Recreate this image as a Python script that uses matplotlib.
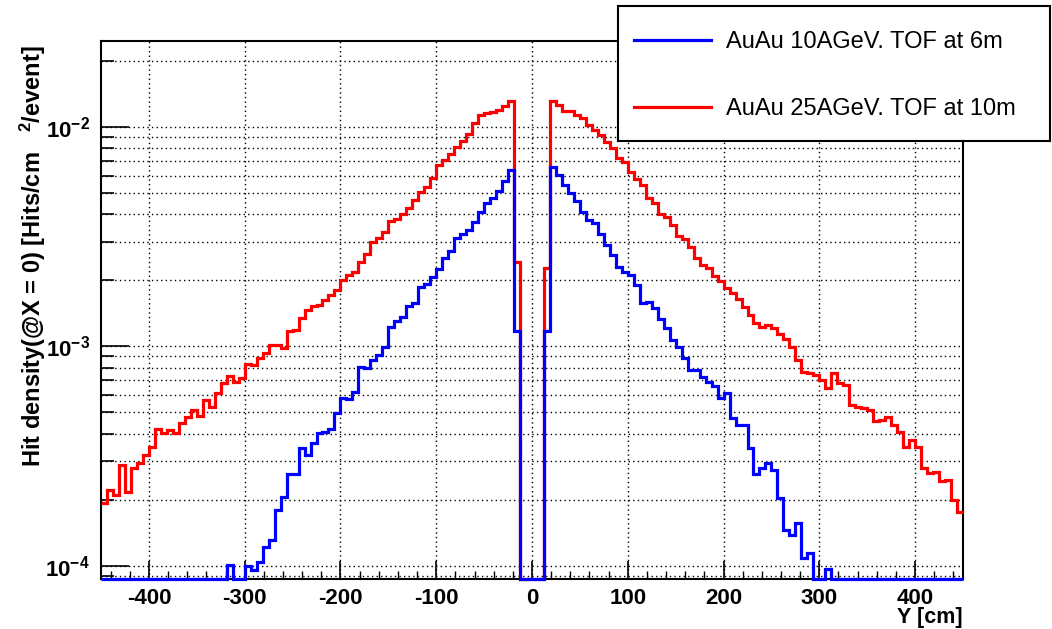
import numpy as np
import matplotlib
matplotlib.use("Agg")
import matplotlib.pyplot as plt
from matplotlib.ticker import MultipleLocator, LogLocator, NullFormatter
from matplotlib.lines import Line2D

plt.rcParams['font.family'] = ['Liberation Sans', 'DejaVu Sans']
plt.rcParams['mathtext.default'] = 'regular'

# histogram binning: 144 bins over the TOF wall, Y in cm
y_lo, y_hi, n_bins = -450.0, 450.0, 144
edges = np.linspace(y_lo, y_hi, n_bins + 1)

label_10 = "AuAu 10AGeV. TOF at 6m"
label_25 = "AuAu 25AGeV. TOF at 10m"

# hit density [hits/cm^2/event] (0 = empty bin)
density_25 = [
    1.92e-4, 2.21e-4, 2.10e-4, 2.88e-4, 2.17e-4, 2.78e-4, 2.93e-4, 3.19e-4, 3.48e-4, 4.22e-4,
    4.01e-4, 4.15e-4, 4.01e-4, 4.45e-4, 4.78e-4, 5.13e-4, 4.81e-4, 5.69e-4, 5.31e-4, 6.10e-4,
    6.78e-4, 7.32e-4, 6.90e-4, 7.14e-4, 8.30e-4, 8.22e-4, 8.81e-4, 9.29e-4, 1.01e-3, 1.01e-3,
    9.79e-4, 1.17e-3, 1.19e-3, 1.34e-3, 1.47e-3, 1.52e-3, 1.54e-3, 1.63e-3, 1.71e-3, 1.81e-3,
    2.01e-3, 2.11e-3, 2.19e-3, 2.43e-3, 2.65e-3, 3.00e-3, 3.11e-3, 3.33e-3, 3.73e-3, 3.79e-3,
    4.01e-3, 4.29e-3, 4.65e-3, 5.04e-3, 5.35e-3, 5.83e-3, 6.71e-3, 7.08e-3, 7.53e-3, 8.08e-3,
    8.66e-3, 9.29e-3, 1.04e-2, 1.13e-2, 1.16e-2, 1.17e-2, 1.20e-2, 1.25e-2, 1.32e-2, 2.43e-3,
    0.0, 0.0, 0.0, 0.0, 2.27e-3, 1.32e-2, 1.26e-2, 1.19e-2, 1.18e-2, 1.14e-2,
    1.10e-2, 1.02e-2, 9.69e-3, 9.19e-3, 8.57e-3, 7.99e-3, 7.20e-3, 6.95e-3, 6.26e-3, 5.77e-3,
    5.44e-3, 4.73e-3, 4.49e-3, 4.01e-3, 3.87e-3, 3.57e-3, 3.18e-3, 3.08e-3, 2.85e-3, 2.52e-3,
    2.36e-3, 2.27e-3, 2.09e-3, 1.99e-3, 1.84e-3, 1.76e-3, 1.64e-3, 1.51e-3, 1.39e-3, 1.28e-3,
    1.23e-3, 1.25e-3, 1.21e-3, 1.14e-3, 1.08e-3, 9.96e-4, 8.67e-4, 7.66e-4, 7.53e-4, 7.40e-4,
    7.02e-4, 6.43e-4, 7.53e-4, 6.83e-4, 6.67e-4, 5.40e-4, 5.27e-4, 5.21e-4, 5.13e-4, 4.58e-4,
    4.61e-4, 4.74e-4, 4.38e-4, 4.08e-4, 3.48e-4, 3.74e-4, 3.48e-4, 2.78e-4, 2.65e-4, 2.68e-4,
    2.44e-4, 2.47e-4, 1.99e-4, 1.76e-4,
]

density_10 = [
    0.0, 0.0, 0.0, 0.0, 0.0, 0.0, 0.0, 0.0, 0.0, 0.0,
    0.0, 0.0, 0.0, 0.0, 0.0, 0.0, 0.0, 0.0, 0.0, 0.0,
    0.0, 1.01e-4, 0.0, 0.0, 1.00e-4, 9.55e-5, 1.04e-4, 1.22e-4, 1.31e-4, 1.79e-4,
    2.06e-4, 2.63e-4, 2.63e-4, 3.43e-4, 3.19e-4, 3.61e-4, 4.01e-4, 4.08e-4, 4.22e-4, 4.95e-4,
    5.79e-4, 5.75e-4, 6.21e-4, 8.07e-4, 7.94e-4, 8.67e-4, 9.12e-4, 9.96e-4, 1.23e-3, 1.30e-3,
    1.36e-3, 1.53e-3, 1.57e-3, 1.86e-3, 1.92e-3, 2.08e-3, 2.25e-3, 2.52e-3, 2.73e-3, 3.11e-3,
    3.25e-3, 3.41e-3, 3.70e-3, 4.11e-3, 4.52e-3, 4.73e-3, 5.11e-3, 5.69e-3, 6.37e-3, 1.17e-3,
    0.0, 0.0, 0.0, 0.0, 1.17e-3, 6.55e-3, 6.04e-3, 5.44e-3, 4.99e-3, 4.60e-3,
    4.11e-3, 3.77e-3, 3.64e-3, 3.27e-3, 2.90e-3, 2.61e-3, 2.31e-3, 2.19e-3, 2.11e-3, 1.90e-3,
    1.57e-3, 1.60e-3, 1.49e-3, 1.33e-3, 1.21e-3, 1.07e-3, 9.96e-4, 8.87e-4, 7.80e-4, 7.80e-4,
    7.27e-4, 6.90e-4, 6.59e-4, 5.79e-4, 6.10e-4, 4.70e-4, 4.38e-4, 4.38e-4, 3.43e-4, 2.63e-4,
    2.78e-4, 2.93e-4, 2.73e-4, 2.03e-4, 1.45e-4, 1.38e-4, 1.56e-4, 1.08e-4, 1.14e-4, 0.0,
    0.0, 9.70e-5, 0.0, 0.0, 0.0, 0.0, 0.0, 0.0, 0.0, 0.0,
    0.0, 0.0, 0.0, 0.0, 0.0, 0.0, 0.0, 0.0, 0.0, 0.0,
    0.0, 0.0, 0.0, 0.0,
]

y_min, y_max = 8.66e-5, 2.47e-2
x_ticks = [-400, -300, -200, -100, 0, 100, 200, 300, 400]
y_ticks = [1e-4, 1e-3, 1e-2]
y_ticklabels = ['$10^{-4}$', '$10^{-3}$', '$10^{-2}$']

fig = plt.figure(figsize=(10.52, 6.29), dpi=100)
ax = fig.add_axes([101 / 1052, 49.7 / 629, 862 / 1052, 538.3 / 629])

# empty bins sit on the lower edge of the log frame, like ROOT draws them
h25 = np.where(np.array(density_25) > 0, density_25, y_min)
h10 = np.where(np.array(density_10) > 0, density_10, y_min)
ax.stairs(h25, edges, color='#ff0000', lw=2.3, baseline=None, clip_on=False, zorder=3)
ax.stairs(h10, edges, color='#0000ff', lw=2.3, baseline=None, clip_on=False, zorder=3)

ax.set_yscale('log')
ax.set_xlim(y_lo, y_hi)
ax.set_ylim(y_min, y_max)

ax.set_xticks(x_ticks)
ax.set_xticklabels([str(t) for t in x_ticks], fontsize=16, fontweight='bold')
ax.xaxis.set_minor_locator(MultipleLocator(20))
ax.set_yticks(y_ticks)
ax.set_yticklabels(y_ticklabels, fontsize=16, fontweight='bold')
ax.yaxis.set_minor_locator(LogLocator(base=10, subs=np.arange(2, 10)))
ax.yaxis.set_minor_formatter(NullFormatter())

ax.tick_params(axis='x', which='major', direction='in', length=13, width=1.2, pad=6)
ax.tick_params(axis='x', which='minor', direction='in', length=6, width=1.0)
ax.tick_params(axis='y', which='major', direction='in', length=20, width=1.2, pad=8)
ax.tick_params(axis='y', which='minor', direction='in', length=9, width=1.2)

dots = (0, (1, 2.3))
ax.set_axisbelow('line')
ax.grid(True, which='major', axis='x', color='black', ls=dots, lw=1.0)
ax.grid(True, which='both', axis='y', color='black', ls=dots, lw=1.0)
for s in ax.spines.values():
    s.set_linewidth(1.5)

fig.text(33 / 1052, 1 - 45 / 629, 'Hit density(@X = 0) [Hits/cm   $^{2}$/event]',
         rotation=90, ha='center', va='top', fontsize=17, fontweight='bold')
fig.text(963 / 1052, 1 - 617 / 629, 'Y [cm]', ha='right', va='center',
         fontsize=15.5, fontweight='bold')

# legend box (ROOT TLegend style), overlapping the top of the frame
lax = fig.add_axes([618 / 1052, 1 - 141 / 629, 432 / 1052, 135 / 629], zorder=5)
lax.set_xlim(0, 1)
lax.set_ylim(0, 1)
lax.set_xticks([])
lax.set_yticks([])
lax.set_facecolor('white')
for s in lax.spines.values():
    s.set_linewidth(1.5)
for yy, col, lab in [(0.748, '#0000ff', label_10), (0.252, '#ff0000', label_25)]:
    lax.add_line(Line2D([0.037, 0.215], [yy, yy], color=col, lw=2.3))
    lax.text(0.25, yy - 0.015, lab, ha='left', va='center', fontsize=17)

plt.savefig('out.png', dpi=100)
plt.close()
